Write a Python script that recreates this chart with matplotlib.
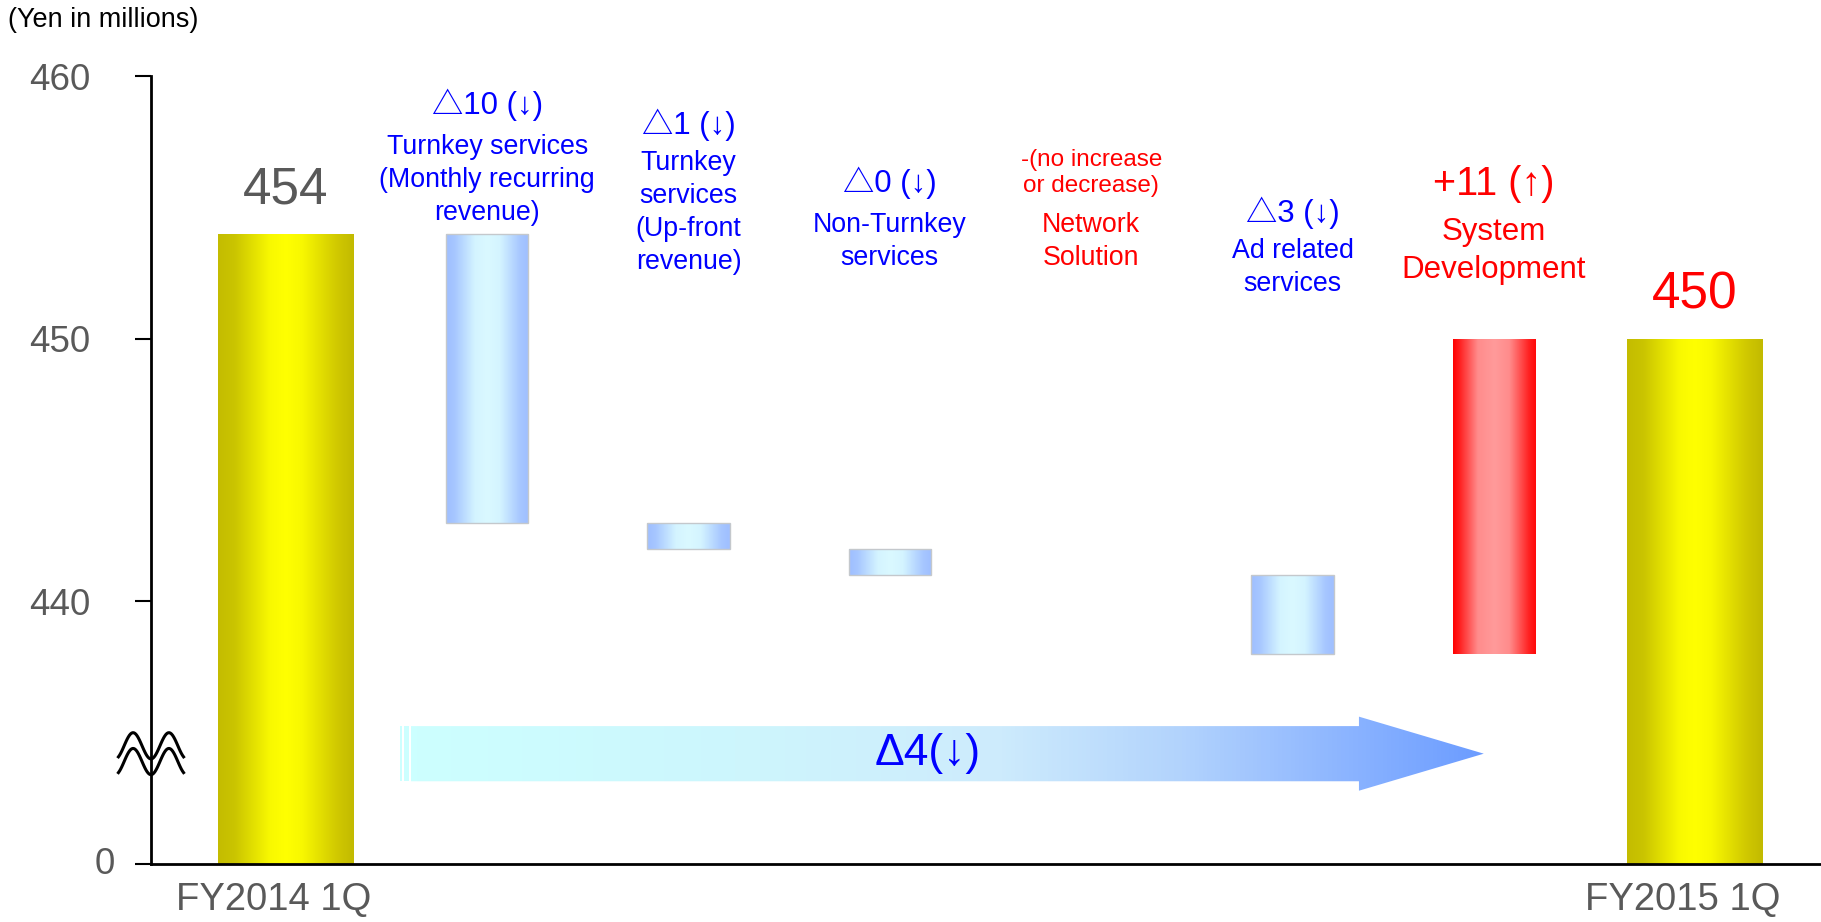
import numpy as np
import matplotlib
matplotlib.use('Agg')
from matplotlib import pyplot as plt
from matplotlib.colors import LinearSegmentedColormap
from matplotlib.patches import FancyArrow, Rectangle

plt.rcParams['font.family'] = ['Liberation Sans', 'Noto Sans CJK JP']

# Net sales, yen in millions
periods = ['FY2014 1Q', 'FY2015 1Q']
totals = [454, 450]
segments = [
    'Turnkey services\n(Monthly recurring\nrevenue)',
    'Turnkey\nservices\n(Up-front\nrevenue)',
    'Non-Turnkey\nservices',
    'Network\nSolution',
    'Ad related\nservices',
    'System\nDevelopment',
]
change_labels = ['△10 (↓)', '△1 (↓)', '△0 (↓)', '-(no increase\nor decrease)', '△3 (↓)', '+11 (↑)']
# running total after each segment's change
levels = [443, 442, 441, 441, 438, 450]

GRAY = '#595959'
BLUE = '#0000ff'
RED = '#ff0000'
FLOOR = 430  # the "0" line of the broken axis

yellow_cmap = LinearSegmentedColormap.from_list(
    'yel', [(0, '#c4bc00'), (0.12, '#cac400'), (0.38, '#f8f800'), (0.5, '#ffff00'),
            (0.62, '#f8f800'), (0.88, '#d0c800'), (1, '#c2ba00')])
blue_cmap = LinearSegmentedColormap.from_list(
    'blu', [(0, '#9fbfff'), (0.1, '#a6c6ff'), (0.35, '#d4f4ff'), (0.5, '#daf9ff'),
            (0.65, '#d4f4ff'), (0.9, '#a6c6ff'), (1, '#9fbfff')])
red_cmap = LinearSegmentedColormap.from_list(
    'red', [(0, '#ff0000'), (0.08, '#ff2020'), (0.3, '#ff8c8c'), (0.5, '#ff9a9a'),
            (0.68, '#ff8c8c'), (0.92, '#ff2020'), (1, '#ff0a0a')])
arrow_cmap = LinearSegmentedColormap.from_list(
    'arr', [(0, '#ccffff'), (0.3, '#cdf6fd'), (0.55, '#cdebfc'), (0.72, '#b2d3fd'),
            (0.87, '#8db5ff'), (1, '#6c9cff')])


def shade(ax, patch, cmap, extent):
    grad = np.linspace(0, 1, 256).reshape(1, -1)
    im = ax.imshow(grad, cmap=cmap, extent=extent, aspect='auto',
                   interpolation='bilinear', zorder=patch.get_zorder() - 0.1)
    im.set_clip_path(patch)


def shade_bars(ax, bars, cmap):
    for rect in bars:
        x0, y0 = rect.get_x(), rect.get_y()
        shade(ax, rect, cmap, (x0, x0 + rect.get_width(), y0, y0 + rect.get_height()))


fig = plt.figure(figsize=(18.21, 9.22), dpi=100)
ax = fig.add_axes([151 / 1821, 58 / 922, 1670 / 1821, 788 / 922])

n = len(segments)
x_total = [0, n + 1]
x_seg = np.arange(1, n + 1)

# start / end totals
total_bars = ax.bar(x_total, [v - FLOOR for v in totals], bottom=FLOOR, width=0.675,
                    facecolor='none', edgecolor='none', zorder=2)
shade_bars(ax, total_bars, yellow_cmap)
for x, v, c in zip(x_total, totals, [GRAY, RED]):
    ax.annotate(str(v), (x, v), xytext=(0, 14), textcoords='offset points',
                ha='center', va='bottom', fontsize=37, color=c)

# segment changes (no bar where nothing changed)
prev = [totals[0]] + levels[:-1]
for x, a, b in zip(x_seg, prev, levels):
    if a == b:
        continue
    up = b > a
    bar = ax.bar([x], [abs(b - a)], bottom=min(a, b), width=0.41,
                 facecolor='none', edgecolor='none' if up else '#c4c8cc',
                 linewidth=1, zorder=2)
    shade_bars(ax, bar, red_cmap if up else blue_cmap)

label_pos = [(458.9, 456.05), (458.15, 454.8), (455.95, 453.7),
             (456.3, 453.7), (454.8, 452.7), (455.9, 453.35)]
label_col = [BLUE, BLUE, BLUE, RED, BLUE, RED]
for i, (x, name, chg) in enumerate(zip(x_seg, segments, change_labels)):
    y_chg, y_name = label_pos[i]
    col = label_col[i]
    big = (col == RED and chg.startswith('+'))
    if chg.startswith('-'):
        chg_size = 17.5
    else:
        chg_size = 28.5 if big else 22.5
    ax.text(x, y_chg, chg, ha='center', va='center', fontsize=chg_size,
            color=col, linespacing=1.25)
    ax.text(x, y_name, name, ha='center', va='center', fontsize=22.5 if big else 19.3,
            color=col, linespacing=1.35)

# overall change arrow
arrow_x0, arrow_x1, arrow_y = 0.62, 5.95, 434.2
arrow = FancyArrow(arrow_x0, arrow_y, arrow_x1 - arrow_x0, 0, width=2.1,
                   head_width=2.82, head_length=0.62, length_includes_head=True,
                   facecolor='none', edgecolor='none', zorder=2)
ax.add_patch(arrow)
shade(ax, arrow, arrow_cmap, (arrow_x0, arrow_x1, arrow_y - 1.41, arrow_y + 1.41))
for sx, sw in [(0.566, 0.01), (0.586, 0.025)]:
    ax.add_patch(Rectangle((sx, arrow_y - 1.05), sw, 2.1, facecolor='#ccffff',
                           edgecolor='none', zorder=2))
net = totals[1] - totals[0]
ax.text(3.19, arrow_y, f"Δ{abs(net)}({'↓' if net < 0 else '↑'})", ha='center',
        va='center', fontsize=32, color=BLUE, zorder=3)

# axes
ax.set_xlim(-0.67, 7.625)
ax.set_ylim(FLOOR, 460)
for side in ['top', 'right']:
    ax.spines[side].set_visible(False)
for side in ['left', 'bottom']:
    ax.spines[side].set_linewidth(2)
ax.set_yticks([FLOOR, 440, 450, 460], ['', '440', '450', '460'])
ax.tick_params(axis='y', length=11.5, width=1.5, pad=32, labelsize=26.5, labelcolor=GRAY)
ax.text(-0.0216, FLOOR, '0', transform=ax.get_yaxis_transform(), ha='right',
        va='center', fontsize=26.5, color=GRAY)
ax.set_xticks([])
for x, name in zip(x_total, periods):
    ax.annotate(name, (x, FLOOR), xytext=(-9, -26), textcoords='offset points',
                ha='center', va='center', fontsize=27.5, color=GRAY,
                annotation_clip=False)

# axis break mark
t = np.linspace(-1, 1, 60)
wave = -np.cos(2 * np.pi * t / 1.1)
for yc in [434.5, 433.9]:
    ax.plot(t * 0.0195, yc + 0.5 * wave, color='black', lw=2.2,
            transform=ax.get_yaxis_transform(), clip_on=False, zorder=4)

fig.text(8 / 1821, 1 - 20 / 922, '(Yen in millions)', ha='left', va='center',
         fontsize=19.5, color='black')

plt.savefig('out.png', dpi=100)
